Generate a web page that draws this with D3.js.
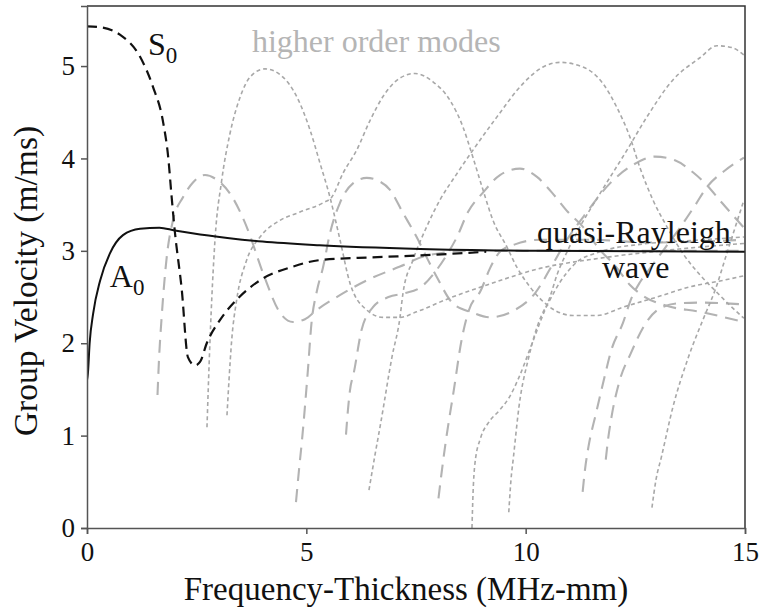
<!DOCTYPE html>
<html>
<head>
<meta charset="utf-8">
<script src="https://cdn.jsdelivr.net/npm/d3@7"></script>
<style>
body { margin: 0; background: #fff; }
text { font-family: "Liberation Serif", "Times New Roman", serif; }
</style>
</head>
<body>
<div id="chart"></div>
<script>
/*
Group velocity dispersion curves (Lamb modes in a plate)
each mode is a list of [frequency-thickness (MHz-mm), group velocity (m/ms)]
 */

//fundamental modes:
var modeA0 = [[0, 1.6], [0.02, 1.67], [0.06, 2.0], [0.14, 2.32], [0.30, 2.68], [0.52, 2.97], [0.82, 3.17], [1.21, 3.24],
    [1.65, 3.25], [2.0, 3.22], [2.4, 3.19], [3.2, 3.14], [4.0, 3.10], [5.3, 3.06], [7.6, 3.02], [10.3, 3.0], [15, 2.99]];
var modeS0 = [[0, 5.43], [0.3, 5.42], [0.75, 5.34], [1.21, 5.10], [1.5, 4.78], [1.74, 4.38], [1.85, 4.02], [1.93, 3.58],
    [2.0, 3.22], [2.16, 2.58], [2.3, 1.85], [2.46, 1.76], [2.58, 1.80], [2.73, 2.0], [3.03, 2.25], [3.41, 2.47],
    [3.94, 2.68], [4.7, 2.83], [5.31, 2.90], [6.5, 2.93], [7.59, 2.95], [9.1, 2.99]];

//higher antisymmetric modes (dotted):
var modeA1 = [[2.735, 1.09], [2.804, 2.03], [2.918, 3.12], [3.07, 3.76], [3.26, 4.27], [3.488, 4.66], [3.716, 4.88],
    [4.057, 4.97], [4.468, 4.88], [4.78, 4.67], [5.083, 4.31], [5.311, 3.95], [5.539, 3.58], [5.767, 3.12],
    [5.995, 2.65], [6.376, 2.36], [6.748, 2.28], [7.135, 2.28], [7.515, 2.34], [8.274, 2.49], [9.118, 2.63],
    [10.326, 2.81], [11.694, 2.92], [13.289, 3.01], [14.976, 3.08]];
var modeA2 = [[3.191, 1.22], [3.237, 1.60], [3.298, 2.03], [3.412, 2.47], [3.64, 2.90], [3.944, 3.15], [4.4, 3.33],
    [4.856, 3.42], [5.38, 3.52], [5.578, 3.58], [5.836, 3.84], [6.148, 4.09], [6.451, 4.41], [6.748, 4.67],
    [7.135, 4.87], [7.477, 4.92], [7.887, 4.83], [8.274, 4.63], [8.571, 4.34], [8.799, 4.01], [9.027, 3.66],
    [9.255, 3.33], [9.574, 3.04], [9.802, 2.82], [10.098, 2.61], [10.554, 2.39], [11.078, 2.30], [11.626, 2.30],
    [12.218, 2.39], [12.993, 2.50], [13.745, 2.61], [14.497, 2.68], [14.976, 2.73]];
var modeA3 = [[6.428, 0.41], [6.565, 0.79], [6.697, 1.14], [6.952, 1.85], [7.135, 2.28], [7.203, 2.54], [7.431, 2.90],
    [7.743, 3.26], [8.046, 3.55], [8.411, 3.82], [8.799, 4.09], [9.346, 4.45], [9.939, 4.81], [10.395, 4.99],
    [10.782, 5.04], [11.306, 4.99], [11.762, 4.81], [12.081, 4.55], [12.378, 4.23], [12.605, 3.90],
    [12.902, 3.55], [13.221, 3.26], [13.586, 2.97], [13.973, 2.74], [14.36, 2.55], [14.656, 2.41], [14.976, 2.27]];
var modeA4 = [[8.776, 0], [8.799, 0.36], [8.844, 0.70], [8.976, 0.98], [9.152, 1.14], [9.414, 1.28], [9.633, 1.42],
    [9.847, 1.63], [10.116, 1.96], [10.372, 2.28], [10.554, 2.50], [10.714, 2.74], [10.964, 3.01], [11.238, 3.26],
    [11.694, 3.62], [12.309, 4.09], [12.765, 4.45], [13.357, 4.85], [13.973, 5.09], [14.36, 5.22], [14.702, 5.20],
    [14.976, 5.12]];
var modeA5 = [[9.615, 0.17], [9.665, 0.52], [9.722, 0.77], [9.847, 1.31], [10.071, 1.85], [10.292, 2.22],
    [10.554, 2.47], [10.782, 2.66], [11.124, 2.86], [11.694, 2.99], [12.605, 3.07], [13.745, 3.11], [14.976, 3.15]];
var modeA6 = [[12.879, 0.22], [12.97, 0.52], [13.095, 0.77], [13.357, 1.31], [13.711, 1.85], [14.064, 2.28],
    [14.315, 2.57], [14.611, 3.01], [14.976, 3.55]];

//higher symmetric modes (long dashes):
var modeS1 = [[1.607, 1.44], [1.641, 1.82], [1.703, 2.29], [1.817, 2.93], [1.96, 3.33], [2.188, 3.58], [2.416, 3.74],
    [2.69, 3.82], [2.986, 3.76], [3.26, 3.62], [3.64, 3.26], [4.012, 2.76], [4.4, 2.33], [4.696, 2.23],
    [4.969, 2.26], [5.236, 2.36], [5.692, 2.50], [6.376, 2.68], [7.135, 2.83], [7.75, 2.95], [8.73, 3.0],
    [14.976, 3.0]];
var modeS2 = [[4.764, 0.28], [4.833, 0.63], [4.901, 0.95], [5.031, 1.68], [5.118, 2.22], [5.243, 2.57], [5.38, 2.82],
    [5.539, 3.19], [5.767, 3.52], [6.063, 3.73], [6.376, 3.79], [6.633, 3.76], [6.907, 3.66], [7.203, 3.41],
    [7.515, 3.15], [7.743, 2.93], [7.971, 2.72], [8.343, 2.43], [8.799, 2.33], [9.186, 2.28], [9.756, 2.36],
    [10.212, 2.54], [10.6, 2.84], [10.942, 3.12], [11.397, 3.42], [11.922, 3.73], [12.446, 3.93], [12.947, 4.02],
    [13.403, 3.98], [13.813, 3.85], [14.132, 3.71], [14.474, 3.52], [14.976, 3.25]];
var modeS3 = [[5.904, 1.01], [5.949, 1.28], [5.995, 1.49], [6.082, 1.68], [6.257, 2.14], [6.519, 2.39], [6.873, 2.50],
    [7.226, 2.54], [7.59, 2.60], [7.933, 2.77], [8.206, 2.96], [8.434, 3.15], [8.685, 3.42], [9.027, 3.63],
    [9.414, 3.82], [9.87, 3.89], [10.258, 3.80], [10.6, 3.63], [10.964, 3.42], [11.306, 3.26], [11.694, 3.01],
    [12.036, 2.84], [12.378, 2.63], [12.72, 2.50], [13.175, 2.41], [13.973, 2.34], [14.976, 2.23]];
var modeS4 = [[8.012, 0.32], [8.092, 0.63], [8.183, 0.95], [8.361, 1.49], [8.537, 2.03], [8.708, 2.36], [8.976, 2.57],
    [9.186, 2.81], [9.414, 2.99], [9.756, 3.07], [10.326, 3.12], [11.466, 3.12], [12.834, 3.09], [13.973, 3.10],
    [14.976, 3.12]];
var modeS5 = [[11.299, 0.39], [11.352, 0.63], [11.432, 0.88], [11.603, 1.24], [11.78, 1.60], [11.956, 1.93],
    [12.218, 2.22], [12.396, 2.47], [12.605, 2.66], [12.834, 2.81], [13.175, 3.03], [13.517, 3.25], [13.859, 3.49],
    [14.132, 3.69], [14.543, 3.87], [14.976, 4.01]];
var modeS6 = [[11.826, 0.74], [11.876, 0.95], [11.956, 1.20], [12.127, 1.57], [12.396, 1.89], [12.742, 2.22],
    [13.009, 2.36], [13.449, 2.43], [13.973, 2.44], [14.976, 2.42]];

//ticks:
var xTicks = [0, 5, 10, 15];
var yTicks = [0, 1, 2, 3, 4, 5];

var width = 761;
var height = 610;
var serif = "Liberation Serif, Times New Roman, serif";

//create plot pane:
var plot = d3.select("#chart")
    .append("svg")
    .attr("width", width)
    .attr("height", height);

//set Scales
var xScale = d3.scaleLinear().domain([0, 15]).range([87, 745]);
var yScale = d3.scaleLinear().domain([0, 5.65]).range([528, 6]);

plot.append("clipPath")
    .attr("id", "clip")
    .append("rect")
    .attr("x", 87).attr("y", 6)
    .attr("width", 658).attr("height", 522);

var line = d3.line()
    .x(function (d) { return xScale(d[0]); })
    .y(function (d) { return yScale(d[1]); })
    .curve(d3.curveMonotoneX);

var panel = plot.append("g").attr("clip-path", "url(#clip)");

//gray higher order modes first
var dotted = [modeA1, modeA2, modeA3, modeA4, modeA5, modeA6];
var dashed = [modeS1, modeS2, modeS3, modeS4, modeS5, modeS6];

panel.selectAll(".sym")
    .data(dashed)
    .enter().append("path")
    .attr("class", "sym")
    .attr("d", line)
    .attr("fill", "none")
    .attr("stroke", "#b3b3b3")
    .attr("stroke-width", 2.1)
    .attr("stroke-dasharray", "13,8");

panel.selectAll(".anti")
    .data(dotted)
    .enter().append("path")
    .attr("class", "anti")
    .attr("d", line)
    .attr("fill", "none")
    .attr("stroke", "#a8a8a8")
    .attr("stroke-width", 1.6)
    .attr("stroke-dasharray", "4,3");

panel.append("path")
    .datum(modeS0)
    .attr("d", line)
    .attr("fill", "none")
    .attr("stroke", "#111")
    .attr("stroke-width", 2.2)
    .attr("stroke-dasharray", "10,6");

panel.append("path")
    .datum(modeA0)
    .attr("d", line)
    .attr("fill", "none")
    .attr("stroke", "#111")
    .attr("stroke-width", 2);

//box:
plot.append("path")
    .attr("d", "M87,6H745V528")
    .attr("fill", "none")
    .attr("stroke", "#333")
    .attr("stroke-width", 1.5);

//axis:
var xAxis = d3.axisBottom(xScale).tickValues(xTicks).tickSize(6).tickPadding(8).tickFormat(d3.format("d"));
var yAxis = d3.axisLeft(yScale).tickValues(yTicks).tickSize(6).tickPadding(6).tickFormat(d3.format("d"));

var gx = plot.append("g")
    .attr("transform", "translate(0,528)")
    .call(xAxis);
var gy = plot.append("g")
    .attr("transform", "translate(87,0)")
    .call(yAxis);

[gx, gy].forEach(function (g) {
    g.attr("font-family", serif);
    g.select(".domain").attr("stroke", "#555").attr("stroke-width", 1.5);
    g.selectAll(".tick line").attr("stroke", "#555").attr("stroke-width", 1.5);
    g.selectAll("text")
        .attr("font-family", serif)
        .attr("font-size", 27)
        .attr("fill", "#111");
});

//axis titles
plot.append("text")
    .attr("x", 406).attr("y", 600)
    .attr("text-anchor", "middle")
    .attr("font-family", serif)
    .attr("font-size", 33)
    .attr("fill", "#111")
    .text("Frequency-Thickness (MHz-mm)");

plot.append("text")
    .attr("transform", "translate(37,281) rotate(-90)")
    .attr("text-anchor", "middle")
    .attr("font-family", serif)
    .attr("font-size", 33.5)
    .attr("fill", "#111")
    .text("Group Velocity (m/ms)");

//labels
function modeLabel(f, v, letter) {
    var t = plot.append("text")
        .attr("x", xScale(f)).attr("y", yScale(v))
        .attr("font-family", serif)
        .attr("font-size", 32)
        .attr("fill", "#111");
    t.append("tspan").text(letter);
    t.append("tspan").attr("dy", 8).attr("font-size", 23).text("0");
}
modeLabel(1.39, 5.12, "S");
modeLabel(0.52, 2.61, "A");

plot.append("text")
    .attr("x", xScale(3.76)).attr("y", yScale(5.15))
    .attr("font-family", serif)
    .attr("font-size", 32)
    .attr("fill", "#b5b5b5")
    .text("higher order modes");

plot.append("text")
    .attr("x", xScale(10.26)).attr("y", yScale(3.08))
    .attr("font-family", serif)
    .attr("font-size", 32)
    .attr("fill", "#111")
    .text("quasi-Rayleigh");

plot.append("text")
    .attr("x", xScale(11.74)).attr("y", yScale(2.71))
    .attr("font-family", serif)
    .attr("font-size", 32)
    .attr("fill", "#111")
    .text("wave");
</script>
</body>
</html>
